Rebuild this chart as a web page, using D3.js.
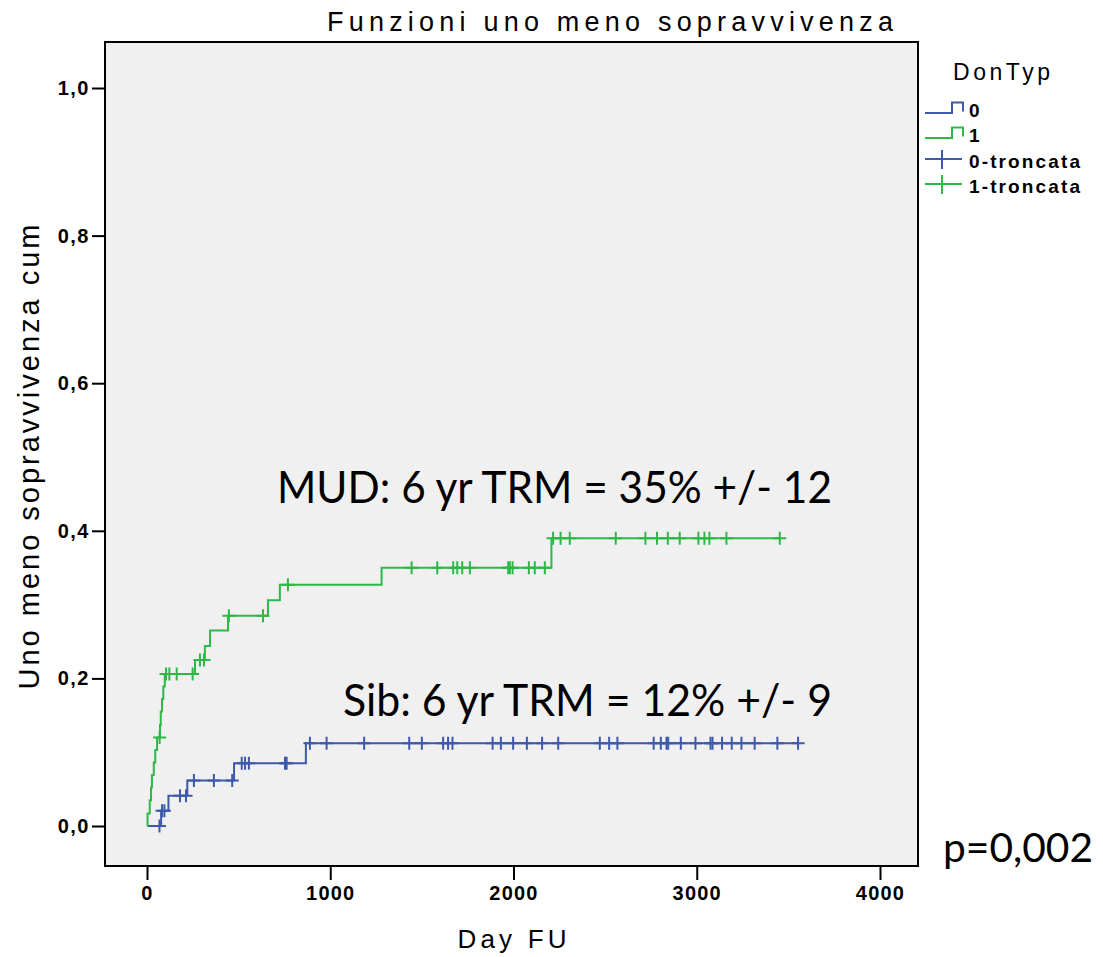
<!DOCTYPE html>
<html>
<head>
<meta charset="utf-8">
<script src="https://cdn.jsdelivr.net/npm/d3@7"></script>
<style>
  html, body { margin: 0; padding: 0; background: #ffffff; }
  svg { display: block; }
</style>
</head>
<body>
<svg id="chart" width="1103" height="957"></svg>
<script>
// Cumulative incidence (1 - survival) by donor type
const groupNames = ["0", "1"];
const groupColors = ["#3e58ac", "#2eb848"];

// DonTyp 0 (sibling donors): event times (days) and cumulative incidence after each step
const sibStepDays = [77, 117, 220, 475, 867];
const sibStepValues = [0.0205, 0.041, 0.0615, 0.085, 0.112];
const sibCensoredDays = [68, 82, 95, 180, 213, 256, 365, 465, 517, 535, 556, 753, 762,
  889, 980, 1185, 1431, 1500, 1616, 1643, 1667, 1886, 1931, 1998, 2073, 2156, 2244,
  2471, 2522, 2567, 2765, 2804, 2835, 2844, 2913, 2993, 3075, 3086, 3138, 3191, 3244,
  3316, 3440, 3553];

// DonTyp 1 (unrelated donors)
const mudStepDays = [3, 15, 22, 27, 37, 45, 55, 71, 75, 82, 89, 97, 262, 316, 344, 442, 660, 725, 1280, 2207];
const mudStepValues = [0.017, 0.035, 0.052, 0.069, 0.086, 0.103, 0.120, 0.137, 0.155, 0.172, 0.189, 0.206,
  0.225, 0.244, 0.265, 0.285, 0.306, 0.327, 0.350, 0.390];
const mudCensoredDays = [69, 104, 122, 162, 249, 289, 311, 447, 633, 769, 1444, 1584, 1671, 1693,
  1720, 1762, 1971, 1980, 1995, 2084, 2116, 2171, 2216, 2257, 2307, 2558, 2720, 2783, 2842,
  2907, 3009, 3042, 3069, 3162, 3453];

const xTicks = [0, 1000, 2000, 3000, 4000];
const yTicks = [0, 0.2, 0.4, 0.6, 0.8, 1.0];
const legendLabels = ["0", "1", "0-troncata", "1-troncata"];

const titleText = "Funzioni uno meno sopravvivenza";
const xTitle = "Day FU";
const yTitle = "Uno meno sopravvivenza cum";
const mudNote = "MUD: 6 yr TRM = 35% +/- 12";
const sibNote = "Sib: 6 yr TRM = 12% +/- 9";
const pNote = "p=0,002";

const svg = d3.select("#chart");
const frame = { left: 105, top: 42, right: 918, bottom: 866 };

const x = d3.scaleLinear().domain([0, 4000]).range([147, 880]);
const y = d3.scaleLinear().domain([0, 1]).range([826, 88]);

const sansFont = "'Liberation Sans', Arial, sans-serif";

// plot panel
svg.append("rect")
  .attr("x", frame.left).attr("y", frame.top)
  .attr("width", frame.right - frame.left).attr("height", frame.bottom - frame.top)
  .attr("fill", "#f0f0f0").attr("stroke", "#000").attr("stroke-width", 2);

// axes
const yAxis = svg.append("g")
  .attr("transform", `translate(${frame.left},0)`)
  .call(d3.axisLeft(y).tickValues(yTicks).tickSize(13).tickPadding(2)
    .tickFormat(d => d3.format(".1f")(d).replace(".", ",")));
yAxis.select(".domain").remove();
yAxis.selectAll("line").attr("stroke", "#000").attr("stroke-width", 2);
yAxis.selectAll("text")
  .attr("font-family", sansFont).attr("font-weight", "bold")
  .attr("font-size", 20).attr("letter-spacing", 1.5).attr("fill", "#000");

const xAxis = svg.append("g")
  .attr("transform", `translate(0,${frame.bottom})`)
  .call(d3.axisBottom(x).tickValues(xTicks).tickSize(14).tickPadding(6).tickFormat(d3.format("d")));
xAxis.select(".domain").remove();
xAxis.selectAll("line").attr("stroke", "#000").attr("stroke-width", 2);
xAxis.selectAll("text")
  .attr("font-family", sansFont).attr("font-weight", "bold")
  .attr("font-size", 20).attr("letter-spacing", 1.2).attr("fill", "#000");

// step curve builder
function buildSeries(stepDays, stepValues, censored) {
  const lastDay = Math.max(d3.max(censored), d3.max(stepDays));
  const pts = [[0, 0]];
  stepDays.forEach((t, i) => pts.push([t, stepValues[i]]));
  pts.push([lastDay, stepValues[stepValues.length - 1]]);
  const valueAt = t => {
    let v = 0;
    stepDays.forEach((s, i) => { if (s <= t) v = stepValues[i]; });
    return v;
  };
  return { pts, marks: censored.map(t => [t, valueAt(t)]) };
}

const series = [
  buildSeries(sibStepDays, sibStepValues, sibCensoredDays),
  buildSeries(mudStepDays, mudStepValues, mudCensoredDays)
];

const line = d3.line().x(d => x(d[0])).y(d => y(d[1])).curve(d3.curveStepAfter);
const arm = 6.5;

series.forEach((s, i) => {
  const g = svg.append("g");
  g.append("path").datum(s.pts)
    .attr("d", line).attr("fill", "none")
    .attr("stroke", groupColors[i]).attr("stroke-width", 2);
  g.selectAll("path.cens").data(s.marks).join("path")
    .attr("class", "cens")
    .attr("d", d => `M${x(d[0]) - arm},${y(d[1])}H${x(d[0]) + arm}M${x(d[0])},${y(d[1]) - arm}V${y(d[1]) + arm}`)
    .attr("fill", "none").attr("stroke", groupColors[i]).attr("stroke-width", 2);
});

// titles
svg.append("text").attr("x", 610).attr("y", 31).attr("text-anchor", "middle")
  .attr("font-family", sansFont).attr("font-size", 27)
  .attr("textLength", 566).attr("lengthAdjust", "spacing").text(titleText);

svg.append("text").attr("x", 512).attr("y", 948).attr("text-anchor", "middle")
  .attr("font-family", sansFont).attr("font-size", 26)
  .attr("textLength", 109).attr("lengthAdjust", "spacing").text(xTitle);

svg.append("text").attr("transform", "translate(39,457) rotate(-90)").attr("text-anchor", "middle")
  .attr("font-family", sansFont).attr("font-size", 29)
  .attr("textLength", 465).attr("lengthAdjust", "spacing").text(yTitle);

// annotations
const noteFont = "Lato, 'Open Sans', sans-serif";
svg.append("text").attr("x", 277).attr("y", 503)
  .attr("font-family", noteFont).attr("font-size", 45)
  .attr("textLength", 555).attr("lengthAdjust", "spacingAndGlyphs").text(mudNote);
svg.append("text").attr("x", 343).attr("y", 716)
  .attr("font-family", noteFont).attr("font-size", 45)
  .attr("textLength", 489).attr("lengthAdjust", "spacingAndGlyphs").text(sibNote);
svg.append("text").attr("x", 943).attr("y", 862)
  .attr("font-family", noteFont).attr("font-size", 41)
  .attr("textLength", 150).attr("lengthAdjust", "spacingAndGlyphs").text(pNote);

// legend
const legend = svg.append("g");
legend.append("text").attr("x", 953).attr("y", 80)
  .attr("font-family", sansFont).attr("font-size", 23)
  .attr("textLength", 97).attr("lengthAdjust", "spacing").text("DonTyp");

const rowY = [113, 138, 159, 184];
const textY = [117, 142, 168, 193];
legendLabels.forEach((lab, i) => {
  const col = groupColors[i % 2];
  const ly = rowY[i];
  if (i < 2) {
    legend.append("path")
      .attr("d", `M925,${ly}H952V${ly - 10.5}H963V${ly - 1.5}`)
      .attr("fill", "none").attr("stroke", col).attr("stroke-width", 2);
  } else {
    legend.append("path")
      .attr("d", `M925,${ly}H962M942,${ly - 9}V${ly + 10}`)
      .attr("fill", "none").attr("stroke", col).attr("stroke-width", 2);
  }
  const t = legend.append("text").attr("x", 969).attr("y", textY[i])
    .attr("font-family", sansFont).attr("font-weight", "bold").attr("font-size", 19)
    .text(lab);
  if (i >= 2) t.attr("textLength", 111).attr("lengthAdjust", "spacing");
});
</script>
</body>
</html>
